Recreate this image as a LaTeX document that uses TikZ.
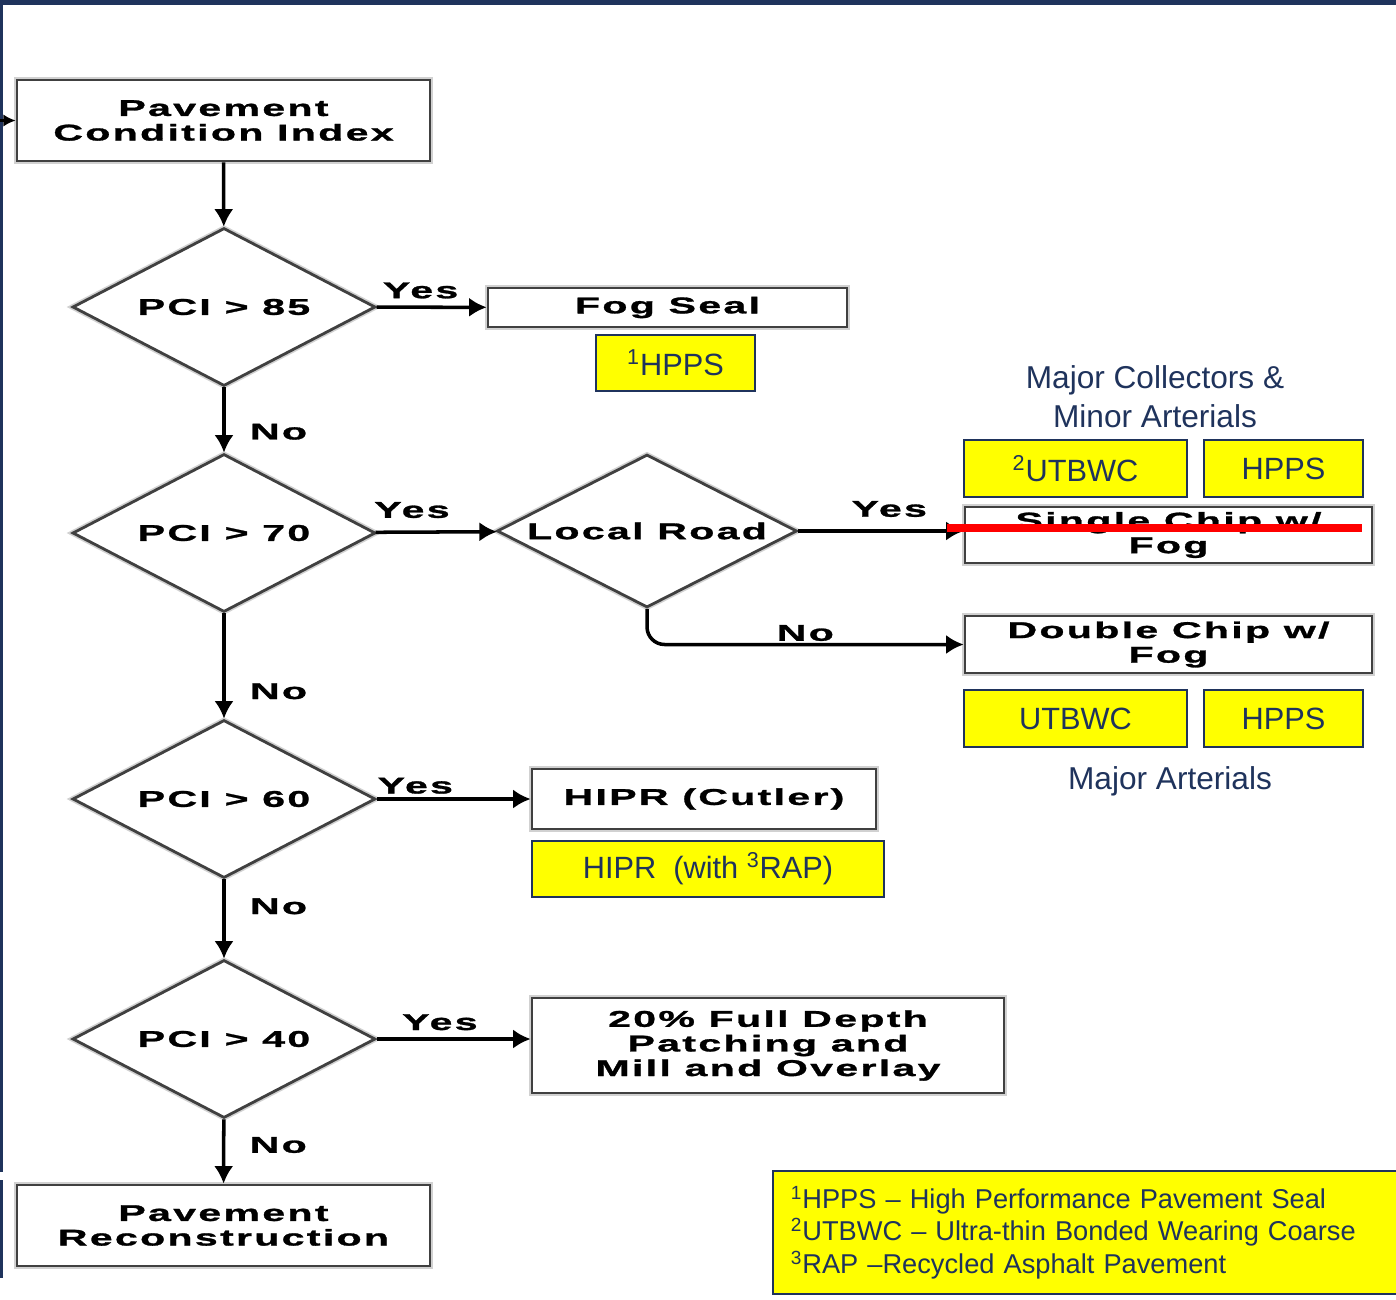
\documentclass[tikz,border=0pt]{standalone}
\usepackage{fontspec}
\setmainfont{Liberation Sans}
\newfontfamily\chartfont[FakeStretch=1.8,LetterSpace=10,FakeBold=1.2]{Liberation Sans Bold}
\usetikzlibrary{shapes.geometric,arrows.meta}

\definecolor{navy}{RGB}{31,51,92}
\definecolor{tagyellow}{RGB}{255,255,0}

\tikzset{
  flowbox/.style={draw=black!75, line width=1.6pt, fill=white, align=center, inner sep=0pt,
    preaction={draw=black!18, line width=3.4pt},
    font=\chartfont\fontsize{13}{14}\selectfont},
  decision/.style={diamond, aspect=1.92, draw=black!75, line width=1.6pt, fill=white, inner sep=0pt,
    preaction={draw=black!18, line width=3.4pt},
    minimum width=6.06cm, minimum height=3.16cm, font=\chartfont\fontsize{13}{14}\selectfont},
  tag/.style={draw=navy, line width=1pt, fill=tagyellow, text=navy, inner sep=0pt,
    font=\fontsize{17.5}{20}\selectfont},
  note/.style={text=navy, align=center, font=\fontsize{18}{22}\selectfont},
  answer/.style={font=\chartfont\fontsize{13}{14}\selectfont, inner sep=1pt},
  flow/.style={line width=2pt, -{Latex[length=10pt,width=11pt]}}
}

\begin{document}
\begin{tikzpicture}[x=0.02cm, y=-0.02cm]
\useasboundingbox (0,0) rectangle (1396,1299);

% slide frame
\fill[navy] (0,0) rectangle (1396,5);
\fill[navy] (0,0) rectangle (3,1172);
\fill[navy] (0,1180) rectangle (3,1278);

% main column
\node[flowbox, minimum width=8.26cm, minimum height=1.62cm] (pci) at (223.5,120.5) {Pavement\\Condition Index};
\node[decision] (d85) at (224,307) {PCI > 85};
\node[decision] (d70) at (224,533) {PCI > 70};
\node[decision] (d60) at (224,799) {PCI > 60};
\node[decision] (d40) at (224,1039) {PCI > 40};
\node[flowbox, minimum width=8.26cm, minimum height=1.62cm] (recon) at (223.5,1225.5) {Pavement\\Reconstruction};

% treatments
\node[flowbox, minimum width=7.18cm, minimum height=0.78cm] (fog) at (667.5,307.5) {Fog Seal};
\node[tag, minimum width=3.18cm, minimum height=1.12cm] (hpps1) at (675.5,363) {\textsuperscript{1}HPPS};

\node[decision, minimum width=6cm, minimum height=3.06cm] (local) at (647,531) {Local Road};

\node[note] (collectors) at (1155,397) {Major Collectors \&\\Minor Arterials};
\node[tag, minimum width=4.46cm, minimum height=1.14cm] (utbwc2) at (1075.5,468.5) {\textsuperscript{2}UTBWC};
\node[tag, minimum width=3.18cm, minimum height=1.14cm] (hpps2) at (1283.5,468.5) {HPPS};
\node[flowbox, minimum width=8.14cm, minimum height=1.12cm] (single) at (1168.5,535) {Single Chip w/\\Fog};

\node[flowbox, minimum width=8.14cm, minimum height=1.14cm] (double) at (1168.5,644.5) {Double Chip w/\\Fog};
\node[tag, minimum width=4.46cm, minimum height=1.14cm] (utbwc3) at (1075.5,718.5) {UTBWC};
\node[tag, minimum width=3.18cm, minimum height=1.14cm] (hpps3) at (1283.5,718.5) {HPPS};
\node[note] (arterials) at (1170,781) {Major Arterials};

\node[flowbox, minimum width=6.88cm, minimum height=1.2cm] (hipr) at (704,799) {HIPR (Cutler)};
\node[tag, minimum width=7.04cm, minimum height=1.12cm] (hiprrap) at (708,869) {HIPR\ \ (with \textsuperscript{3}RAP)};

\node[flowbox, minimum width=9.44cm, minimum height=1.9cm] (patch) at (768,1045.5) {20\% Full Depth\\Patching and\\Mill and Overlay};

% legend
\node[tag, anchor=north west, minimum width=12.56cm, minimum height=2.46cm, align=left,
  text width=12.2cm, inner xsep=0.36cm, font=\fontsize{15.5}{18.5}\selectfont] (legend) at (772,1170)
  {\textsuperscript{1}HPPS -- High Performance Pavement Seal\\
   \textsuperscript{2}UTBWC -- Ultra-thin Bonded Wearing Coarse\\
   \textsuperscript{3}RAP --Recycled Asphalt Pavement};

% connectors
\coordinate (feed) at (0,120.5);
\draw[line width=1.2pt, -{Latex[length=7pt,width=7pt]}] (feed) -- (pci.west);
\draw[flow] (pci) -- (d85);
\draw[flow] (d85) -- node[answer, above, pos=0.4, yshift=3pt] {Yes} (fog);
\draw[flow] (d85) -- node[answer, right, pos=0.68, xshift=0.45cm] {No} (d70);
\draw[flow] (d70) -- node[answer, above, pos=0.3, yshift=6pt] {Yes} (local);
\draw[flow] (local.east) -- node[answer, above, pos=0.55, yshift=6pt] {Yes} (local.east -| single.west);
\draw[flow, rounded corners=10pt] (local.south) |- node[answer, above, pos=0.75] {No} (double.west);
\draw[flow] (d70) -- node[answer, right, pos=0.74, xshift=0.45cm] {No} (d60);
\draw[flow] (d60) -- node[answer, above, pos=0.25, yshift=1pt] {Yes} (hipr);
\draw[flow] (d60) -- node[answer, right, pos=0.34, xshift=0.45cm] {No} (d40);
\draw[flow] (d40.east) -- node[answer, above, pos=0.41, yshift=3pt] {Yes} (d40.east -| patch.west);
\draw[flow] (d40) -- node[answer, right, pos=0.4, xshift=0.45cm] {No} (recon);

% struck-out option
\draw[red, line width=4pt] (947,528) -- (1362,528);

\end{tikzpicture}
\end{document}
